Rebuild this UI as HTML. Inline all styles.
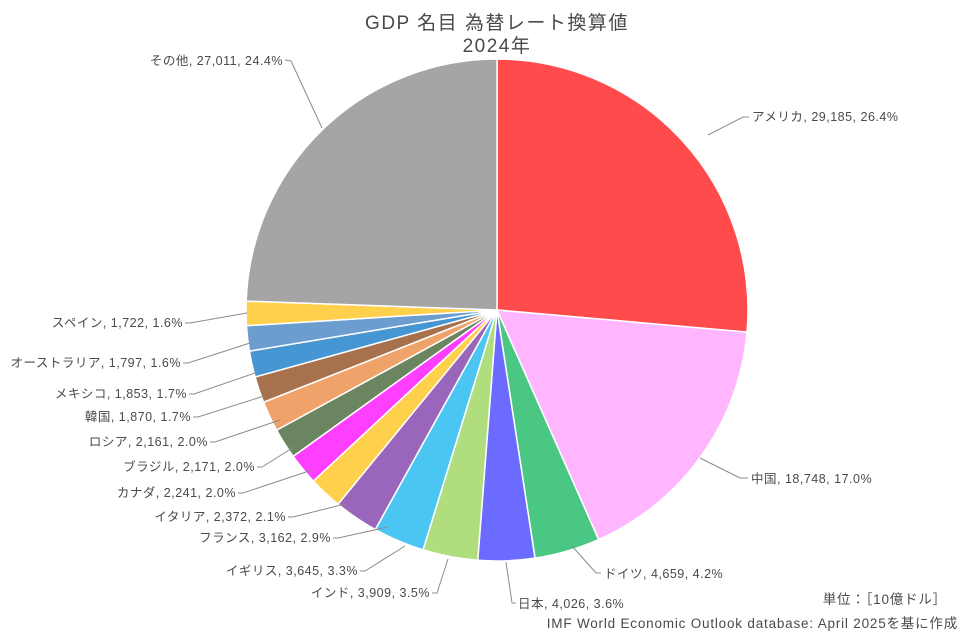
<!DOCTYPE html>
<html><head><meta charset="utf-8"><style>
body{margin:0;background:#fff;width:975px;height:636px;overflow:hidden}
svg text{font-family:"Liberation Sans","Noto Sans CJK JP",sans-serif;fill:#4a4a4a}
.l{font-size:12.5px;letter-spacing:0.5px}
</style></head><body>
<svg id="s" width="975" height="636" viewBox="0 0 975 636">
<g id="pie"></g>
<g stroke="#8c8c8c" stroke-width="1" fill="none">
<polyline points="285,60 291,61 322,128"/>
<polyline points="749,117 743,117 708,135"/>
<polyline points="748,478 740,478 700,458"/>
<polyline points="601,573 596,573 572,546"/>
<polyline points="516,603 512,603 506,562"/>
<polyline points="432,593 437,593 448,559"/>
<polyline points="360,571 365,571 405,546"/>
<polyline points="333,538 338,538 388,527"/>
<polyline points="288,517 293,517 345,504"/>
<polyline points="238,493 243,493 312,470"/>
<polyline points="257,467 262,467 294,447"/>
<polyline points="210,442 215,442 280,420"/>
<polyline points="193,417 198,417 264,396"/>
<polyline points="189,394 194,394 255,373"/>
<polyline points="183,363 188,363 250,343"/>
<polyline points="185,323 190,323 247,313"/>
</g>
<text x="497" y="29" text-anchor="middle" font-size="19" letter-spacing="1.5">GDP 名目 為替レート換算値</text>
<text x="497" y="52" text-anchor="middle" font-size="19" letter-spacing="1.5">2024年</text>
<g class="l">
<text x="283" y="65" text-anchor="end">その他, 27,011, 24.4%</text>
<text x="752" y="121">アメリカ, 29,185, 26.4%</text>
<text x="751" y="483">中国, 18,748, 17.0%</text>
<text x="604" y="578">ドイツ, 4,659, 4.2%</text>
<text x="518" y="608">日本, 4,026, 3.6%</text>
<text x="430" y="597" text-anchor="end">インド, 3,909, 3.5%</text>
<text x="358" y="575" text-anchor="end">イギリス, 3,645, 3.3%</text>
<text x="331" y="542" text-anchor="end">フランス, 3,162, 2.9%</text>
<text x="286" y="521" text-anchor="end">イタリア, 2,372, 2.1%</text>
<text x="236" y="497" text-anchor="end">カナダ, 2,241, 2.0%</text>
<text x="255" y="471" text-anchor="end">ブラジル, 2,171, 2.0%</text>
<text x="208" y="446" text-anchor="end">ロシア, 2,161, 2.0%</text>
<text x="191" y="421" text-anchor="end">韓国, 1,870, 1.7%</text>
<text x="187" y="398" text-anchor="end">メキシコ, 1,853, 1.7%</text>
<text x="181" y="367" text-anchor="end">オーストラリア, 1,797, 1.6%</text>
<text x="183" y="327" text-anchor="end">スペイン, 1,722, 1.6%</text>
<text x="947" y="604" text-anchor="end" font-size="13.5" letter-spacing="0.8">単位：［10億ドル］</text>
<text x="958" y="628" text-anchor="end" font-size="13.5" letter-spacing="0.8">IMF World Economic Outlook database: April 2025を基に作成</text>
</g>
</svg>
<script>
var v=[29185,18748,4659,4026,3909,3645,3162,2372,2241,2171,2161,1870,1853,1797,1722,27011];
var c=["#FF4B4B","#FFB6FF","#4BC784","#6B6BFF","#B0DE7E","#4BC6F2","#9966BB","#FFD04B","#FF3FFF","#6B8560","#EFA36B","#A6714C","#4796D4","#6B9ECF","#FFD04B","#A5A5A5"];
var t=0;v.forEach(function(a){t+=a});
var cx=497,cy=310,r=251,a0=-Math.PI/2,h="";
v.forEach(function(x,i){var a1=a0+x/t*2*Math.PI;
var p=function(a){return (cx+r*Math.cos(a)).toFixed(2)+","+(cy+r*Math.sin(a)).toFixed(2)};
h+='<path d="M'+cx+','+cy+' L'+p(a0)+' A'+r+','+r+' 0 '+(a1-a0>Math.PI?1:0)+' 1 '+p(a1)+' Z" fill="'+c[i]+'" stroke="#fff" stroke-width="1.5"/>';a0=a1;});
document.getElementById("pie").innerHTML=h;
</script>
</body></html>
